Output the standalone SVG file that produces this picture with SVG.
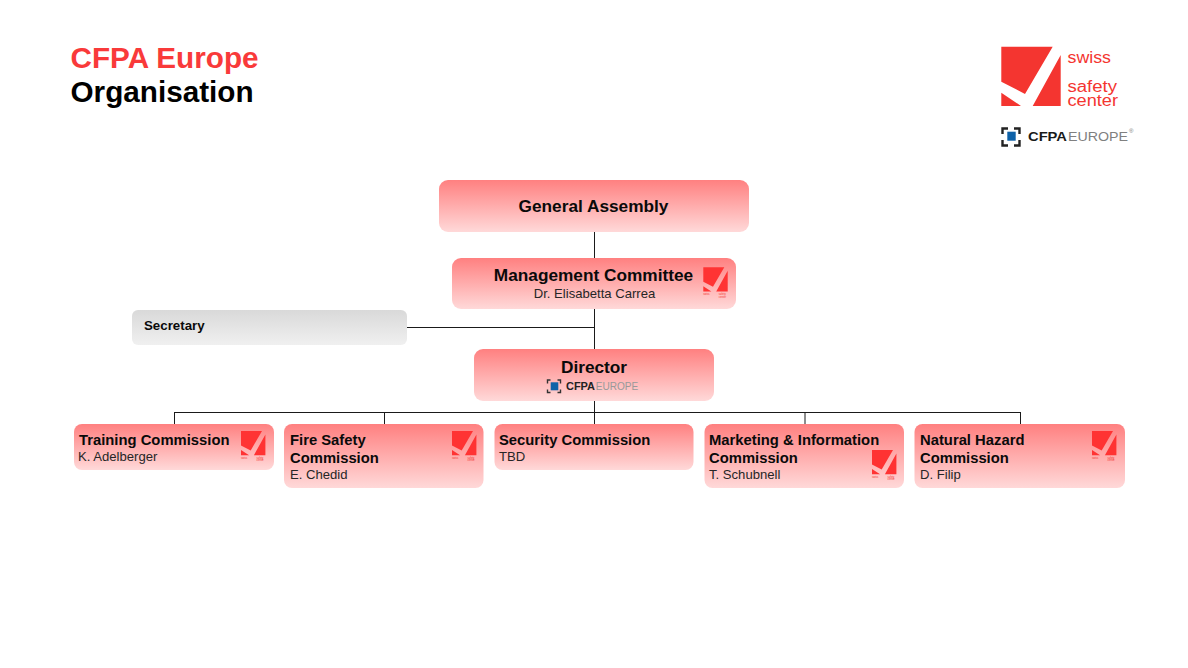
<svg xmlns="http://www.w3.org/2000/svg" width="1188" height="668" viewBox="0 0 1188 668">
<style>
text{font-family:"Liberation Sans",Arial,sans-serif}
.box{fill:url(#red)}
.b{font-weight:bold;fill:#0a0a0a}
.n{fill:#262626;font-size:13.1px}
.h{font-size:14.8px}
.m{font-size:17.25px}
.c{text-anchor:middle}
.con{fill:none;stroke:#1a1a1a;stroke-width:1}
.tiny{font-size:2.6px;fill:#f43530}
.lg{font-size:16px;fill:#f43530}
</style>
<defs>
<linearGradient id="red" x1="0" y1="0" x2="0" y2="1"><stop offset="0" stop-color="#ff8080"/><stop offset="1" stop-color="#ffd9d9"/></linearGradient>
<linearGradient id="grey" x1="0" y1="0" x2="0" y2="1"><stop offset="0" stop-color="#d9d9d9"/><stop offset="1" stop-color="#f0f0f0"/></linearGradient>
<g id="mini">
<path fill="#ff3333" d="M0 0H21L9.700 19.400 0 14.400ZM24.400 3.400V24.300H12.900ZM0 18.900 8.100 24.300H0Z"/>
<text class="tiny" x="0" y="28">swiss</text>
<text class="tiny" x="15.500" y="28">safety<tspan x="15.500" dy="2.400">center</tspan></text>
</g>
</defs>
<rect width="1188" height="668" fill="#fff"/>
<text id="title1" x="70.500" y="68" font-weight="bold" font-size="29.700" fill="#f93a3a">CFPA Europe</text>
<text id="title2" x="70.500" y="102" class="b" font-size="29.700" style="fill:#000">Organisation</text>
<g id="logos">
<path fill="#f43530" d="M1001.300 46.700H1052.700L1025 94 1001.300 81.700ZM1060.700 55V106H1032.700ZM1001.300 92.700 1021 106H1001.300Z"/>
<text class="lg" x="1067.500" y="63" textLength="43.500" lengthAdjust="spacingAndGlyphs">swiss</text>
<text class="lg" x="1067.500" y="92" textLength="49.500" lengthAdjust="spacingAndGlyphs">safety</text>
<text class="lg" x="1067.500" y="106" textLength="50.500" lengthAdjust="spacingAndGlyphs">center</text>
<path fill="none" stroke="#222" stroke-width="2.400" d="M1008 128.500H1002.500V134M1014 128.500H1019.500V134M1002.500 140V145.500H1008M1019.500 140V145.500H1014"/>
<rect x="1007.300" y="131.700" width="8.400" height="9" fill="#0f62a8"/>
<text x="1028" y="141" font-size="13" font-weight="bold" fill="#1a1a1a" textLength="39" lengthAdjust="spacingAndGlyphs">CFPA</text>
<text x="1068" y="141" font-size="13" fill="#808080" textLength="60" lengthAdjust="spacingAndGlyphs">EUROPE</text>
<text x="1129" y="133" font-size="6" fill="#777">®</text>
</g>
<g id="connectors">
<path class="con" d="M594.500 232V258M594.500 308V349M594.500 401V424M407 327.500H594.500M174 412.500H1021M174.500 412V424M384.500 412V424M805 412V424M1020.500 412V424"/>
</g>
<g id="general-assembly"><rect class="box" x="439" y="180" width="310" height="52" rx="9"/><text class="b c m" x="593.500" y="212">General Assembly</text></g>
<g id="management-committee"><rect class="box" x="452" y="258" width="284" height="51" rx="9"/><text class="b c m" x="593.500" y="281">Management Committee</text><text class="n c" x="594.500" y="298">Dr. Elisabetta Carrea</text><use href="#mini" x="703.300" y="267.300"/></g>
<g id="secretary"><rect x="132" y="310" width="275" height="35" rx="6" fill="url(#grey)"/><text class="b" x="144" y="330" font-size="13.300">Secretary</text></g>
<g id="director"><rect class="box" x="474" y="349" width="240" height="52" rx="9"/><text class="b c m" x="594" y="373">Director</text>
<path fill="none" stroke="#333" stroke-width="1.400" d="M550.500 380H547.500V383.500M557.500 380H560.500V383.500M547.500 389.500V392.500H550.500M560.500 389.500V392.500H557.500"/><rect x="550.700" y="382.300" width="7.600" height="8" fill="#0f62a8"/><text x="566" y="390.300" font-size="11" font-weight="bold" fill="#222" textLength="29" lengthAdjust="spacingAndGlyphs">CFPA</text><text x="595.700" y="390.300" font-size="11" fill="#999" textLength="42.600" lengthAdjust="spacingAndGlyphs">EUROPE</text></g>
<g id="training"><rect class="box" x="74" y="424" width="200" height="46" rx="8"/><text class="b h" x="79" y="445">Training Commission</text><text class="n" x="78" y="461">K. Adelberger</text><use href="#mini" x="241" y="431"/></g>
<g id="fire"><rect class="box" x="284" y="424" width="199.500" height="64" rx="8"/><text class="b h" x="290" y="445">Fire Safety</text><text class="b h" x="290" y="463">Commission</text><text class="n" x="290" y="479">E. Chedid</text><use href="#mini" x="452" y="431"/></g>
<g id="security"><rect class="box" x="494.500" y="424" width="199" height="46" rx="8"/><text class="b h" x="499" y="445">Security Commission</text><text class="n" x="499" y="461">TBD</text></g>
<g id="marketing"><rect class="box" x="704.500" y="424" width="199.500" height="64" rx="8"/><text class="b h" x="709" y="445">Marketing &amp; Information</text><text class="b h" x="709" y="463">Commission</text><text class="n" x="709" y="479">T. Schubnell</text><use href="#mini" x="872" y="450"/></g>
<g id="natural"><rect class="box" x="914.500" y="424" width="210.500" height="64" rx="8"/><text class="b h" x="920" y="445">Natural Hazard</text><text class="b h" x="920" y="463">Commission</text><text class="n" x="920" y="479">D. Filip</text><use href="#mini" x="1092" y="431"/></g>
</svg>
